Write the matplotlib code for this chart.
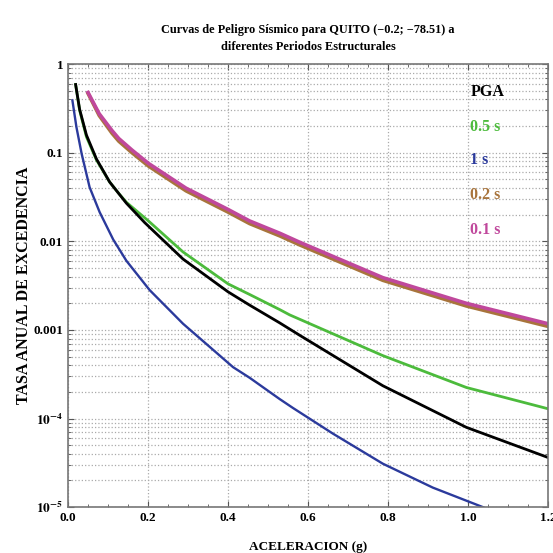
import numpy as np
import matplotlib
matplotlib.use('Agg')
import matplotlib.pyplot as plt
from matplotlib.ticker import LogLocator, NullFormatter, MultipleLocator

plt.rcParams['font.family'] = ['Liberation Serif', 'DejaVu Serif']
plt.rcParams['mathtext.fontset'] = 'stix'

# valores: aceleracion (g) y log10 de la tasa anual
pga_x = [0.019, 0.029, 0.046, 0.071, 0.104, 0.146, 0.192, 0.2875, 0.40, 0.454, 0.529, 0.579, 0.787, 0.996, 1.2]
pga_log = [-0.23, -0.51, -0.80, -1.07, -1.33, -1.57, -1.79, -2.20, -2.57, -2.72, -2.92, -3.06, -3.63, -4.10, -4.44]

t05_x = [0.019, 0.029, 0.046, 0.071, 0.104, 0.127, 0.146, 0.201, 0.2875, 0.40, 0.454, 0.529, 0.554, 0.787, 0.996, 1.2]
t05_log = [-0.23, -0.52, -0.82, -1.08, -1.33, -1.46, -1.56, -1.77, -2.12, -2.48, -2.60, -2.77, -2.83, -3.29, -3.65, -3.89]

t1_x = [0.011, 0.021, 0.034, 0.054, 0.079, 0.113, 0.146, 0.204, 0.2875, 0.4125, 0.454, 0.529, 0.562, 0.662, 0.787, 0.912, 1.037, 1.08]
t1_log = [-0.41, -0.71, -1.01, -1.39, -1.67, -1.98, -2.22, -2.55, -2.93, -3.42, -3.54, -3.78, -3.88, -4.17, -4.51, -4.78, -5.0, -5.08]

t02_x = [0.05, 0.078, 0.11, 0.127, 0.16, 0.201, 0.295, 0.40, 0.454, 0.53, 0.579, 0.787, 0.996, 1.2]
t02_log = [-0.33, -0.58, -0.78, -0.87, -1.00, -1.15, -1.43, -1.67, -1.80, -1.94, -2.04, -2.44, -2.73, -2.96]

t01_x = [0.05, 0.078, 0.11, 0.127, 0.16, 0.201, 0.295, 0.40, 0.454, 0.53, 0.579, 0.787, 0.996, 1.2]
t01_log = [-0.32, -0.56, -0.75, -0.84, -0.97, -1.12, -1.40, -1.64, -1.77, -1.91, -2.01, -2.41, -2.70, -2.93]

series = [
    (t02_x, t02_log, '#a8743c', 2.6),
    (t01_x, t01_log, '#c0489c', 2.6),
    (t05_x, t05_log, '#4cbb3c', 2.0),
    (pga_x, pga_log, 'black', 2.0),
    (t1_x, t1_log, '#2b3a9c', 1.7),
]

labels = [('PGA', 'black'), ('0.5 s', '#4cbb3c'), ('1 s', '#2b3a9c'),
          ('0.2 s', '#a8743c'), ('0.1 s', '#c0489c')]
label_y = [0.937, 0.858, 0.783, 0.704, 0.625]

fig = plt.figure(figsize=(5.53, 5.53), dpi=100)
ax = fig.add_axes([0.123, 0.083, 0.868, 0.801])

for xs, logs, col, lw in series:
    ax.semilogy(xs, 10 ** np.array(logs), color=col, lw=lw, solid_joinstyle='round')

ax.set_xlim(0, 1.2)
ax.set_ylim(1e-5, 1)
ax.xaxis.set_minor_locator(MultipleLocator(0.05))
ax.set_xticks([0.0, 0.2, 0.4, 0.6, 0.8, 1.0, 1.2])
ax.set_xticklabels(['0.0', '0.2', '0.4', '0.6', '0.8', '1.0', '1.2'], fontweight='bold')
ax.set_yticks([1e-5, 1e-4, 1e-3, 1e-2, 1e-1, 1])
ax.set_yticklabels([r'$\mathbf{10^{-5}}$', r'$\mathbf{10^{-4}}$', '0.001', '0.01', '0.1', '1'],
                   fontweight='bold')
ax.yaxis.set_minor_locator(LogLocator(base=10, subs=np.arange(2, 10)))
ax.yaxis.set_minor_formatter(NullFormatter())

ax.tick_params(which='both', direction='in', top=True, right=True, colors='#555555',
               labelcolor='black', labelsize=9.5)
ax.tick_params(which='major', length=4)
ax.tick_params(which='minor', length=2)

ax.grid(True, which='major', axis='x', ls=':', color='#aaaaaa', lw=0.9)
ax.grid(True, which='both', axis='y', ls=':', color='#aaaaaa', lw=0.9)
for s in ax.spines.values():
    s.set_color('#777777')
    s.set_linewidth(1.2)

for (txt, col), yy in zip(labels, label_y):
    ax.text(0.838, yy, txt, transform=ax.transAxes, color=col, fontsize=11.5,
            fontweight='bold', va='center')

ax.set_title('Curvas de Peligro Sísmico para QUITO (\u22120.2; \u221278.51) a\ndiferentes Periodos Estructurales',
             fontsize=8.8, fontweight='bold', pad=10, linespacing=1.6)
ax.set_xlabel('ACELERACION (g)', fontsize=9.5, fontweight='bold', labelpad=12)
ax.set_ylabel('TASA ANUAL DE EXCEDENCIA', fontsize=11.5, fontweight='bold')
ax.yaxis.set_label_coords(-0.075, 0.5)

plt.savefig('out.png', dpi=100)
